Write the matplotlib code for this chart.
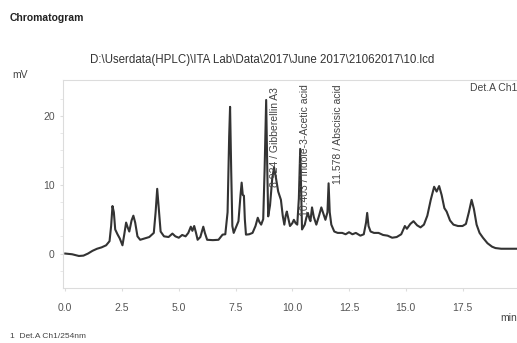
import numpy as np
import matplotlib
matplotlib.use("Agg")
import matplotlib.pyplot as plt

plt.rcParams['font.family'] = ['Liberation Sans', 'DejaVu Sans']

# retention time (min) and signal (mV)
time_min = [0.0, 0.3, 0.6, 0.8, 1.0, 1.2, 1.4, 1.6, 1.8, 1.95, 2.02, 2.08, 2.14, 2.2, 2.3, 2.4,
            2.52, 2.6, 2.68, 2.75, 2.82, 2.92, 3.0, 3.08, 3.18, 3.3, 3.5, 3.7, 3.9, 3.98, 4.05,
            4.12, 4.2, 4.35, 4.55, 4.72, 4.85, 5.0, 5.15, 5.3, 5.42, 5.53, 5.6, 5.68, 5.76, 5.83,
            5.95, 6.08, 6.15, 6.25, 6.5, 6.75, 6.93, 7.05, 7.15, 7.22, 7.26, 7.31, 7.36, 7.42,
            7.52, 7.63, 7.72, 7.77, 7.82, 7.87, 7.91, 7.96, 8.1, 8.25, 8.38, 8.48, 8.55, 8.63,
            8.72, 8.78, 8.85, 8.9, 8.94, 9.02, 9.12, 9.2, 9.28, 9.38, 9.5, 9.58, 9.65, 9.71,
            9.76, 9.82, 9.9, 10.0, 10.07, 10.15, 10.22, 10.29, 10.35, 10.39, 10.43, 10.55,
            10.62, 10.69, 10.76, 10.8, 10.87, 10.95, 11.06, 11.18, 11.28, 11.37, 11.46, 11.55,
            11.6, 11.65, 11.72, 11.85, 12.0, 12.2, 12.35, 12.5, 12.65, 12.8, 13.0, 13.15, 13.25,
            13.3, 13.36, 13.45, 13.6, 13.8, 14.0, 14.2, 14.4, 14.6, 14.8, 14.96, 15.05, 15.2,
            15.34, 15.5, 15.65, 15.8, 15.95, 16.1, 16.25, 16.36, 16.47, 16.58, 16.7, 16.8,
            16.95, 17.1, 17.3, 17.5, 17.65, 17.78, 17.9, 18.0, 18.12, 18.25, 18.4, 18.6, 18.8,
            18.95, 19.2, 19.5, 19.7, 20.0]
signal_mv = [0.0, -0.1, -0.35, -0.3, 0.0, 0.4, 0.7, 0.9, 1.2, 1.8, 4.0, 6.9, 6.0, 3.5, 2.8, 2.2,
             1.2, 2.8, 4.5, 3.8, 3.2, 4.8, 5.5, 4.5, 2.5, 2.0, 2.2, 2.4, 3.0, 6.0, 9.4,
             6.5, 3.2, 2.5, 2.4, 2.9, 2.5, 2.3, 2.7, 2.5, 3.0, 3.9, 3.3, 4.0, 3.0, 2.0,
             2.4, 3.9, 3.0, 2.0, 1.95, 2.0, 2.75, 2.8, 6.0, 17.0, 21.3, 12.0, 4.0, 3.0,
             3.8, 4.7, 8.5, 10.3, 8.5, 8.4, 5.0, 2.75, 2.8, 3.0, 4.0, 5.2, 4.6, 4.2,
             5.0, 12.0, 22.3, 12.0, 5.4, 7.0, 11.0, 12.5, 11.0, 9.0, 7.8, 5.5, 4.2, 5.5,
             6.1, 5.2, 4.0, 4.4, 4.9, 4.4, 4.2, 8.0, 15.2, 9.0, 3.5, 4.2,
             5.2, 5.9, 5.0, 4.7, 6.7, 5.3, 4.2, 5.5, 6.7, 5.8, 4.9, 6.0,
             10.2, 6.0, 4.2, 3.2, 3.0, 3.0, 2.8, 3.1, 2.8, 3.0, 2.6, 2.8, 4.5,
             5.9, 4.0, 3.2, 3.0, 3.0, 2.7, 2.6, 2.3, 2.4, 2.8, 4.0, 3.6, 4.3,
             4.7, 4.1, 3.8, 4.2, 5.5, 7.8, 9.7, 9.0, 9.8, 8.5, 6.6, 6.1,
             4.8, 4.2, 4.0, 4.0, 4.3, 6.0, 7.8, 6.5, 4.2, 3.0, 2.3, 1.5, 1.0,
             0.8, 0.7, 0.7, 0.7, 0.7]

# peak labels: text, x position (min), top of text (mV)
peak_labels = ["8.924 / Gibberellin A3", "10.403 / Indole-3-Acetic acid", "11.578 / Abscisic acid"]
label_x = [9.25, 10.55, 12.0]
label_top = [24.2, 24.6, 24.6]

x_ticks = [0.0, 2.5, 5.0, 7.5, 10.0, 12.5, 15.0, 17.5]
y_ticks = [0, 10, 20]

fig = plt.figure(figsize=(5.17, 3.43), dpi=100)
ax = fig.add_axes([63 / 517, (343 - 288) / 343, 1 - 63 / 517, (288 - 80) / 343])

ax.plot(time_min, signal_mv, color='#333333', lw=1.5)

ax.set_xlim(-0.1, 19.9)
ax.set_ylim(-5, 25.2)
ax.set_xticks(x_ticks)
ax.set_xticklabels([f"{t:.1f}" for t in x_ticks])
ax.set_yticks(y_ticks)
ax.set_yticks(np.arange(-2.5, 25, 2.5), minor=True)
ax.tick_params(axis='both', which='major', labelsize=7.5, labelcolor='#555555',
               color='#dddddd', length=2)
ax.tick_params(axis='x', pad=9)
ax.tick_params(axis='y', pad=4)
ax.tick_params(axis='y', which='minor', color='#e4e4e4', length=2)
ax.tick_params(axis='x', which='minor', bottom=False)
for side in ['left', 'top', 'bottom']:
    ax.spines[side].set_color('#dcdcdc')
    ax.spines[side].set_linewidth(0.8)
ax.spines['right'].set_visible(False)

for txt, x, y in zip(peak_labels, label_x, label_top):
    ax.text(x, y, txt, rotation=90, ha='center', va='top', fontsize=7.5, color='#444444')

fig.text(10 / 517, 1 - 18 / 343, "Chromatogram", fontsize=7.5, fontweight='bold',
         color='#222222', va='center')
fig.text(262 / 517, 1 - 60 / 343, r"D:\Userdata(HPLC)\ITA Lab\Data\2017\June 2017\21062017\10.lcd",
         fontsize=8.3, color='#333333', ha='center', va='center')
fig.text(12 / 517, 1 - 75 / 343, "mV", fontsize=7.5, color='#444444', va='center')
fig.text(470 / 517, 1 - 88 / 343, "Det.A Ch1", fontsize=7.5, color='#444444', va='center')
fig.text(500 / 517, 1 - 318 / 343, "min", fontsize=7.5, color='#444444', va='center')
fig.text(10 / 517, 1 - 337 / 343, "1  Det.A Ch1/254nm", fontsize=6, color='#444444', va='center')

fig.savefig("out.png", dpi=100)
